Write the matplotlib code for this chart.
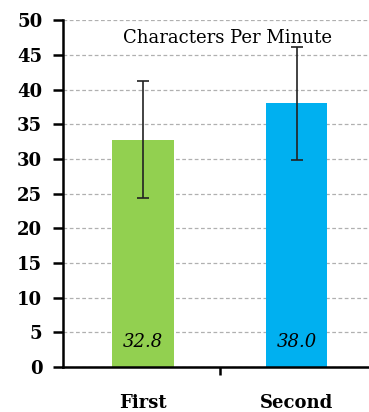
import numpy as np
import matplotlib.pyplot as plt

categories = ["First", "Second"]
means = [32.8, 38.0]
errors = [8.4, 8.1]
colors = ["#92D050", "#00B0F0"]
labels = ["32.8", "38.0"]

plt.rcParams['font.family'] = ['DejaVu Serif']

fig = plt.figure(figsize=(3.69, 4.12), dpi=100)
ax = fig.add_axes([0.171, 0.109, 0.829, 0.842])

x = np.arange(len(categories))
ax.bar(x, means, width=0.4, color=colors, zorder=2)
ax.errorbar(x, means, yerr=errors, fmt='none', ecolor='#222222',
            elinewidth=1.2, capsize=4, capthick=1.2, zorder=3)
for xi, lab in zip(x, labels):
    ax.text(xi, 3.6, lab, ha='center', va='center', fontsize=13,
            style='italic', zorder=4)

ax.text(0.55, 47.5, "Characters Per Minute", ha='center', va='center',
        fontsize=13, color='black')

ax.set_xlim(-0.52, 1.47)
ax.set_ylim(0, 50)
ax.set_yticks(np.arange(0, 51, 5))
ax.yaxis.grid(True, linestyle=(0, (3, 2)), color='#b0b0b0', linewidth=0.9,
              zorder=0)
ax.set_axisbelow(True)

ax.set_xticks([0.5])
ax.set_xticklabels([""])
for xi, c in zip(x, categories):
    ax.text(xi, -3.9, c, ha='center', va='top', fontsize=13,
            fontweight='bold')

ax.spines['top'].set_visible(False)
ax.spines['right'].set_visible(False)
ax.spines['left'].set_linewidth(1.8)
ax.spines['bottom'].set_linewidth(1.8)
ax.tick_params(axis='y', length=7, width=1.8, labelsize=13, pad=8)
ax.tick_params(axis='x', length=6, width=1.8)
for t in ax.get_yticklabels():
    t.set_fontweight('bold')

fig.savefig("out.png", dpi=100)
